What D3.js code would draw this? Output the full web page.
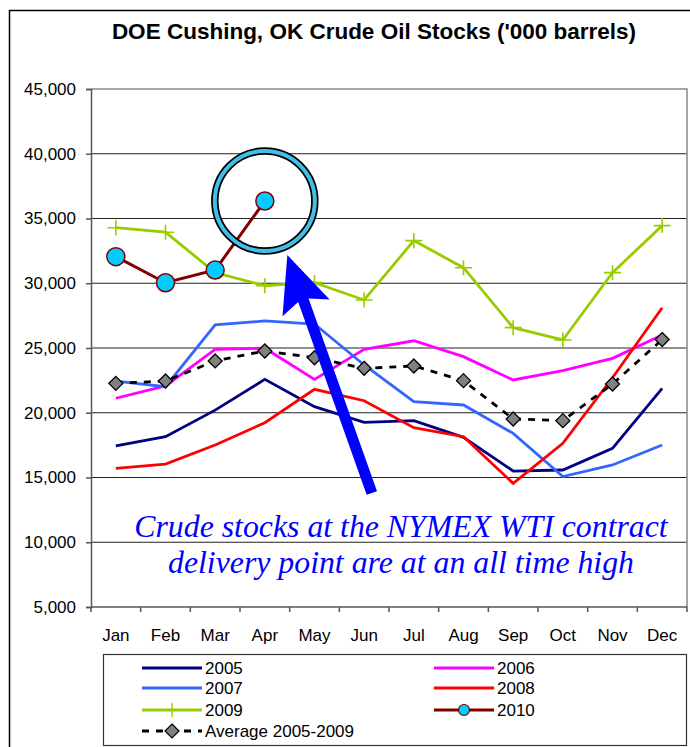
<!DOCTYPE html>
<html>
<head>
<meta charset="utf-8">
<script src="https://cdn.jsdelivr.net/npm/d3@7"></script>
<style>
  body { margin: 0; background: #fff; }
  svg { display: block; }
</style>
</head>
<body>
<div id="chart"></div>
<script>
const months = ["Jan", "Feb", "Mar", "Apr", "May", "Jun", "Jul", "Aug", "Sep", "Oct", "Nov", "Dec"];
const yTicks = [5000, 10000, 15000, 20000, 25000, 30000, 35000, 40000, 45000];

const s2005 = [17450, 18150, 20200, 22580, 20470, 19260, 19390, 18100, 15500, 15580, 17250, 21880];
const s2006 = [21120, 22070, 24900, 24980, 22580, 24900, 25560, 24330, 22530, 23250, 24200, 26000];
const s2007 = [22450, 22010, 26780, 27090, 26850, 23690, 20850, 20600, 18410, 15070, 15970, 17510];
const s2008 = [15710, 16040, 17510, 19230, 21810, 20930, 18850, 18150, 14550, 17640, 22700, 28110];
const s2009 = [34290, 33940, 30820, 29810, 30050, 28710, 33290, 31200, 26570, 25620, 30820, 34450];
const s2010 = [32050, 30040, 31020, 36350];
const avg0509 = [22270, 22450, 24000, 24770, 24250, 23430, 23610, 22480, 19520, 19390, 22220, 25650];

const series = [
    { name: "2005", values: s2005, color: "#000080" },
    { name: "2006", values: s2006, color: "#ff00ff" },
    { name: "2007", values: s2007, color: "#3366ff" },
    { name: "2008", values: s2008, color: "#ff0000" },
    { name: "Average 2005-2009", values: avg0509, color: "#000", dash: "7,7", marker: "diamond" },
    { name: "2009", values: s2009, color: "#99cc00", marker: "plus" },
    { name: "2010", values: s2010, color: "#800000", marker: "circle" }
];

const W = 690, H = 747;
const plot = { left: 91, right: 687, top: 89, bottom: 607 };

const svg = d3.select("#chart").append("svg")
    .attr("width", W)
    .attr("height", H);

// outer chart frame (runs past the window on the right and bottom)
svg.append("rect")
    .attr("x", 9.5).attr("y", 10.5)
    .attr("width", 760).attr("height", 800)
    .attr("fill", "#fff")
    .attr("stroke", "#000")
    .attr("stroke-width", 1.5);

svg.append("text")
    .attr("x", 374)
    .attr("y", 39)
    .attr("text-anchor", "middle")
    .style("font-family", "Liberation Sans, Arial, sans-serif")
    .style("font-size", "22.5px")
    .style("font-weight", "bold")
    .text("DOE Cushing, OK Crude Oil Stocks ('000 barrels)");

const x = d3.scaleBand()
    .domain(months)
    .range([plot.left, plot.right]);

const y = d3.scaleLinear()
    .domain([5000, 45000])
    .range([plot.bottom, plot.top]);

const xc = m => x(m) + x.bandwidth() / 2;

// gridlines
svg.append("g")
    .selectAll("line")
    .data(yTicks.filter(d => d > 5000 && d < 45000))
    .join("line")
    .attr("x1", plot.left).attr("x2", plot.right)
    .attr("y1", d => y(d)).attr("y2", d => y(d))
    .attr("stroke", "#222")
    .attr("stroke-width", 1.2);

// plot border top/right
svg.append("path")
    .attr("d", `M${plot.left},${y(45000)}H${plot.right}V${plot.bottom}`)
    .attr("fill", "none")
    .attr("stroke", "#888")
    .attr("stroke-width", 1.5);

// axes
const yAxis = svg.append("g")
    .attr("transform", `translate(${plot.left},0)`)
    .call(d3.axisLeft(y).tickValues(yTicks).tickSize(5).tickPadding(10).tickFormat(d3.format(",")));

const xAxis = svg.append("g")
    .attr("transform", `translate(0,${plot.bottom})`)
    .call(d3.axisBottom(x).tickSize(0).tickPadding(22));

// x ticks sit on the category boundaries
svg.append("g")
    .selectAll("line")
    .data(months.concat(["end"]))
    .join("line")
    .attr("x1", (d, i) => plot.left + i * x.bandwidth())
    .attr("x2", (d, i) => plot.left + i * x.bandwidth())
    .attr("y1", plot.bottom)
    .attr("y2", plot.bottom + 5)
    .attr("stroke", "#555")
    .attr("stroke-width", 1.5);

[yAxis, xAxis].forEach(a => {
    a.select(".domain").attr("stroke", "#555").attr("stroke-width", 1.5);
    a.selectAll(".tick line").attr("stroke", "#555").attr("stroke-width", 1.5);
    a.selectAll("text")
        .style("font-family", "Liberation Sans, Arial, sans-serif")
        .style("font-size", "17px")
        .attr("fill", "#000");
});
xAxis.select(".domain").attr("d", `M${plot.left},0H${plot.right}`);

// lines
const line = d3.line()
    .x((d, i) => xc(months[i]))
    .y(d => y(d));

const lines = svg.append("g");
series.forEach(s => {
    lines.append("path")
        .datum(s.values)
        .attr("d", line)
        .attr("fill", "none")
        .attr("stroke", s.color)
        .attr("stroke-width", s.name === "2010" ? 3 : 2.8)
        .attr("stroke-dasharray", s.dash || null);

    const pts = lines.append("g")
        .selectAll("g")
        .data(s.values)
        .join("g")
        .attr("transform", (d, i) => `translate(${xc(months[i])},${y(d)})`);

    if (s.marker === "plus") {
        pts.append("path")
            .attr("d", "M-8.5,0H8.5M0,-7.5V7.5")
            .attr("stroke", s.color)
            .attr("stroke-width", 1.6);
    } else if (s.marker === "diamond") {
        pts.append("path")
            .attr("d", "M0,-7L7,0L0,7L-7,0Z")
            .attr("fill", "#808080")
            .attr("stroke", "#000")
            .attr("stroke-width", 1.3);
    } else if (s.marker === "circle") {
        pts.append("circle")
            .attr("r", 9)
            .attr("fill", "#00ccff")
            .attr("stroke", "#800000")
            .attr("stroke-width", 1.5);
    }
});

// highlight ring round the latest 2010 point
const last = s2010.length - 1;
const cx = xc(months[last]), cy = y(s2010[last]);
svg.append("circle")
    .attr("cx", cx).attr("cy", cy).attr("r", 50)
    .attr("fill", "none").attr("stroke", "#000").attr("stroke-width", 7.5);
svg.append("circle")
    .attr("cx", cx).attr("cy", cy).attr("r", 50)
    .attr("fill", "none").attr("stroke", "#40c0e8").attr("stroke-width", 4);

// big blue arrow pointing at the ring
const tip = [cx + 22.5, cy + 54];
const tail = [cx + 107, cy + 292];
const len = Math.hypot(tip[0] - tail[0], tip[1] - tail[1]);
const u = [(tip[0] - tail[0]) / len, (tip[1] - tail[1]) / len];
const n = [-u[1], u[0]];
const headLen = 56, headHalf = 25, shaftHalf = 5.5;
const base = [tip[0] - headLen * u[0], tip[1] - headLen * u[1]];
const neck = [base[0] + 8 * u[0], base[1] + 8 * u[1]];
const P = (p, k) => [p[0] + k * n[0], p[1] + k * n[1]];
svg.append("polygon")
    .attr("points", [
        P(tail, -shaftHalf), P(neck, -shaftHalf), P(base, -headHalf), tip,
        P(base, headHalf), P(neck, shaftHalf), P(tail, shaftHalf)
    ].map(p => p.join(",")).join(" "))
    .attr("fill", "#0000ff");

const note = svg.append("text")
    .attr("text-anchor", "middle")
    .style("font-family", "Liberation Serif, Times New Roman, serif")
    .style("font-style", "italic")
    .style("font-size", "31.8px")
    .attr("fill", "#0000ff");
note.append("tspan").attr("x", 401).attr("y", 537).text("Crude stocks at the NYMEX WTI contract");
note.append("tspan").attr("x", 401).attr("y", 573).text("delivery point are at an all time high");

// legend
const legend = svg.append("g");
legend.append("rect")
    .attr("x", 103.5).attr("y", 654.5)
    .attr("width", 583).attr("height", 91)
    .attr("fill", "#fff")
    .attr("stroke", "#333")
    .attr("stroke-width", 1.2);

const legendOrder = ["2005", "2006", "2007", "2008", "2009", "2010", "Average 2005-2009"];
const rowY = [668, 688, 710, 731];
legendOrder.forEach((name, i) => {
    const s = series.find(d => d.name === name);
    const col = i % 2, row = Math.floor(i / 2);
    const x0 = col === 0 ? 142 : 434;
    const ly = rowY[row];
    const g = legend.append("g");
    g.append("line")
        .attr("x1", x0).attr("x2", x0 + 60)
        .attr("y1", ly).attr("y2", ly)
        .attr("stroke", s.color)
        .attr("stroke-width", s.dash ? 3 : 3.2)
        .attr("stroke-dasharray", s.dash || null);
    const mx = x0 + 30;
    if (s.marker === "plus") {
        g.append("path").attr("d", `M${mx},${ly - 7}V${ly + 7}`)
            .attr("stroke", s.color).attr("stroke-width", 1.4);
    } else if (s.marker === "diamond") {
        g.append("path").attr("d", `M${mx},${ly - 7}L${mx + 7},${ly}L${mx},${ly + 7}L${mx - 7},${ly}Z`)
            .attr("fill", "#808080").attr("stroke", "#000").attr("stroke-width", 1.2);
    } else if (s.marker === "circle") {
        g.append("circle").attr("cx", mx).attr("cy", ly).attr("r", 5.5)
            .attr("fill", "#00ccff").attr("stroke", "#800000").attr("stroke-width", 1.2);
    }
    g.append("text")
        .attr("x", x0 + 63)
        .attr("y", ly + 6)
        .style("font-family", "Liberation Sans, Arial, sans-serif")
        .style("font-size", "17px")
        .text(name);
});
</script>
</body>
</html>
